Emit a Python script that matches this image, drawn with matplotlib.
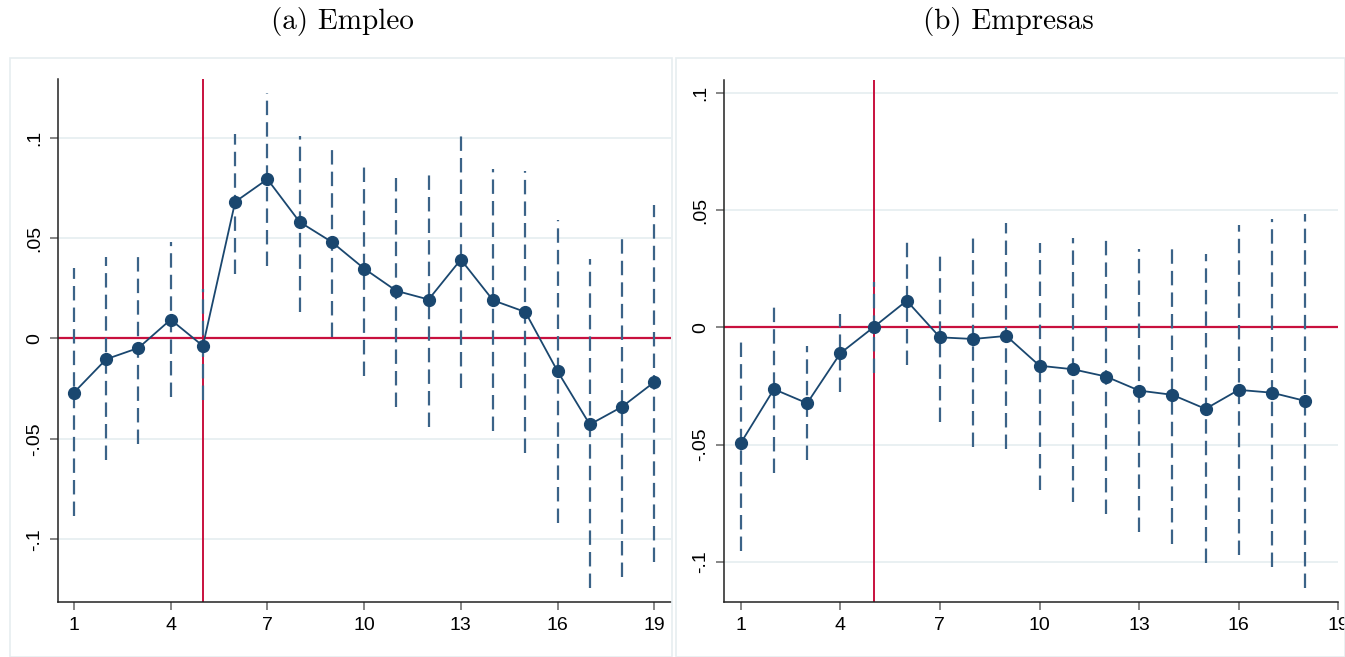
import matplotlib
matplotlib.use("Agg")
import matplotlib.pyplot as plt
from matplotlib.patches import Rectangle

# ---- data ----
x_emp = list(range(1, 20))
emp = [-0.0269, -0.0103, -0.0047, 0.0094, -0.0037, 0.0680, 0.0793, 0.0580, 0.0480, 0.0348,
       0.0237, 0.0194, 0.0393, 0.0190, 0.0132, -0.0163, -0.0428, -0.0340, -0.0217]
emp_hi = [0.0351, 0.0406, 0.0429, 0.0480, 0.0244, 0.1016, 0.1224, 0.1006, 0.0962, 0.0866,
          0.0801, 0.0832, 0.1031, 0.0844, 0.0832, 0.0589, 0.0395, 0.0502, 0.0663]
emp_lo = [-0.0883, -0.0606, -0.0523, -0.0290, -0.0307, 0.0323, 0.0360, 0.0132, 0.0005, -0.0188,
          -0.0343, -0.0443, -0.0244, -0.0460, -0.0569, -0.0917, -0.1244, -0.1186, -0.1114]

x_firm = list(range(1, 19))
firm = [-0.0494, -0.0264, -0.0324, -0.0111, 0.0000, 0.0113, -0.0043, -0.0050, -0.0037, -0.0164,
        -0.0179, -0.0210, -0.0270, -0.0288, -0.0348, -0.0267, -0.0279, -0.0314]
firm_hi = [-0.0051, 0.0088, -0.0078, 0.0055, 0.0194, 0.0386, 0.0322, 0.0390, 0.0446, 0.0360,
           0.0382, 0.0371, 0.0332, 0.0346, 0.0312, 0.0436, 0.0460, 0.0483]
firm_lo = [-0.0952, -0.0620, -0.0565, -0.0276, -0.0193, -0.0161, -0.0406, -0.0511, -0.0517, -0.0693,
           -0.0743, -0.0795, -0.0871, -0.0923, -0.1006, -0.0970, -0.1023, -0.1112]

titles = ["(a) Empleo", "(b) Empresas"]
xticks = [1, 4, 7, 10, 13, 16, 19]
yticks = [-0.1, -0.05, 0, 0.05, 0.1]
ytick_labels = ["-.1", "-.05", "0", ".05", ".1"]
event_x = 5

W, H = 1345, 657
fig = plt.figure(figsize=(W / 100, H / 100), dpi=100)

navy = "#1a476f"
ci_col = "#3b6388"
red = "#c8103e"
grid_col = "#e9f0f2"

def px_rect(x0, y0, x1, y1):
    return [x0 / W, 1 - y1 / H, (x1 - x0) / W, (y1 - y0) / H]

panels = [
    dict(rect=px_rect(58.3, 79.3, 670.7, 601.7), x=x_emp, y=emp, lo=emp_lo, hi=emp_hi,
         xlim=(0.514, 19.51), ylim=(-0.131, 0.129), frame=(10, 58, 672, 657), tcx=342),
    dict(rect=px_rect(724.3, 80.0, 1338.3, 601.7), x=x_firm, y=firm, lo=firm_lo, hi=firm_hi,
         xlim=(0.505, 19.0), ylim=(-0.117, 0.1054), frame=(676, 58, 1345, 657), tcx=1008),
]

for i, p in enumerate(panels):
    fx0, fy0, fx1, fy1 = p["frame"]
    fig.patches.append(Rectangle((fx0 / W, 1 - fy1 / H), (fx1 - fx0) / W, (fy1 - fy0) / H,
                                 transform=fig.transFigure, fill=False,
                                 edgecolor="#e6edf0", linewidth=1.2))
    fig.text(p["tcx"] / W, 1 - 22 / H, titles[i], ha="center", va="center",
             fontsize=21, family="cmr10")

    ax = fig.add_axes(p["rect"])
    ax.set_xlim(*p["xlim"])
    ax.set_ylim(*p["ylim"])
    for s in ["top", "right"]:
        ax.spines[s].set_visible(False)
    for s in ["left", "bottom"]:
        ax.spines[s].set_color("#222222")
        ax.spines[s].set_linewidth(1.1)
    ax.set_yticks(yticks)
    ax.set_yticklabels(ytick_labels, rotation=90, va="center")
    ax.set_xticks(xticks)
    ax.tick_params(axis="both", direction="out", length=6, width=1.1, color="#666666",
                   labelsize=14, pad=5)
    for lab in ax.get_xticklabels() + ax.get_yticklabels():
        lab.set_family("Liberation Sans")
    ax.grid(axis="y", color=grid_col, linewidth=1.4)
    ax.set_axisbelow(True)

    ax.axhline(0, color=red, linewidth=1.6, zorder=2)
    ax.axvline(event_x, color=red, linewidth=1.4, zorder=2)
    ax.vlines(p["x"], p["lo"], p["hi"], colors=ci_col, linewidth=1.6,
              linestyles=(0, (6.5, 3.2)), zorder=3)
    ax.plot(p["x"], p["y"], color=navy, linewidth=1.3, marker="o", markersize=8.5,
            markerfacecolor=navy, markeredgecolor=navy, zorder=4)

fig.savefig("out.png", dpi=100)
